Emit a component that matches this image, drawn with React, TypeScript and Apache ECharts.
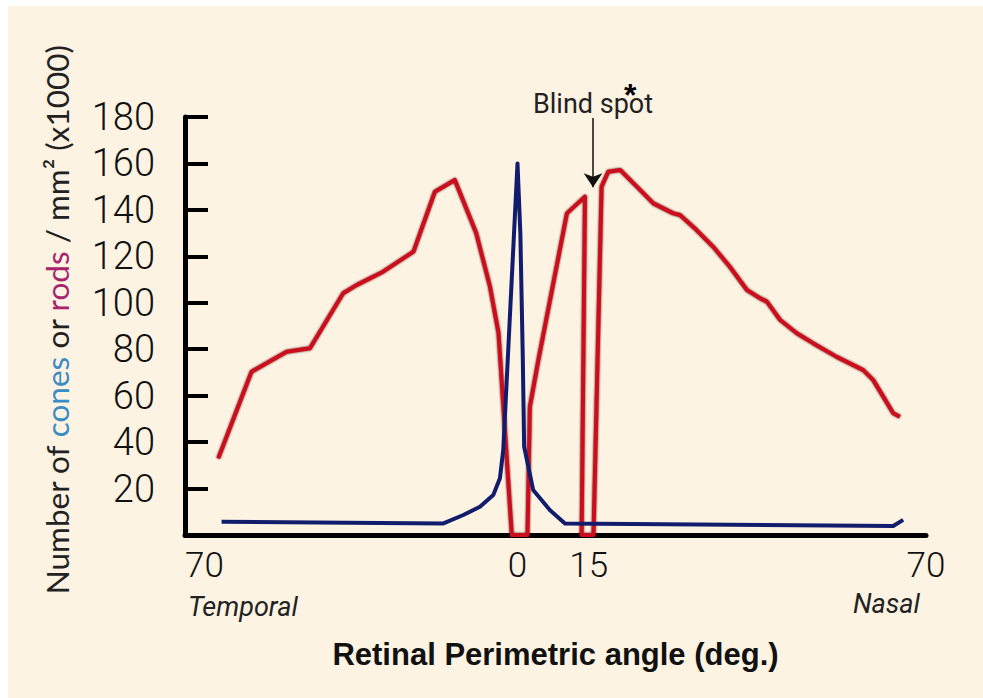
import React, { useEffect, useRef } from "react";
import * as echarts from "echarts";

// Rod density (red) — angle in degrees (negative = temporal), density x1000 / mm²
const rodAngles = [-63.0, -56.0, -48.6, -43.7, -36.7, -33.9, -28.3, -21.9, -17.4, -13.2, -8.7, -5.8, -4.0, -1.2, 2.1, 2.6, 4.4, 10.4, 14.2, 13.5, 16.0, 17.7, 19.1, 21.6, 25.8, 28.6, 32.8, 34.2, 37.7, 41.2, 44.7, 48.3, 51.1, 52.5, 55.3, 58.8, 62.3, 67.2, 72.8, 74.9, 77.0, 79.1, 80.5];
const rodDensity = [33.0, 70.3, 78.9, 80.4, 104.1, 107.6, 113.4, 122.0, 147.8, 152.9, 130.0, 107.0, 87.0, 0, 0, 55.2, 75.4, 138.5, 145.7, 0, 0, 150.0, 156.4, 157.2, 148.6, 142.8, 138.5, 137.8, 131.3, 124.1, 115.5, 105.5, 101.9, 100.5, 92.6, 86.9, 82.5, 76.7, 71.0, 66.7, 59.6, 52.4, 50.9];

// Cone density (blue)
const coneAngles = [-62.3, -15.6, -11.4, -7.9, -5.1, -3.7, -3.0, -2.3, 0, 0.6, 1.1, 1.4, 3.3, 6.8, 10.0, 79.1, 81.2];
const coneDensity = [5.7, 5.0, 8.6, 12.2, 17.2, 24.4, 36.6, 65.3, 160.0, 130.0, 78.0, 38.0, 19.4, 10.8, 5.0, 3.9, 6.5];

// Axis ticks
const xTickValues = [-70, 0, 15, 86];
const xTickLabels = ["70", "0", "15", "70"];
const yMin = 0;
const yMax = 180;
const yInterval = 20;
const xMin = -70;
const xMax = 86;

// Blind spot annotation (angle, from density, to density)
const blindSpotAngle = 15.9;
const blindSpotArrowFrom = 179.6;
const blindSpotArrowTo = 149.8;

const CREAM = "#fdf3e3";
const NUM_FONT = "Roboto, 'Open Sans', sans-serif";

export default function App() {
  const ref = useRef<HTMLDivElement>(null);

  useEffect(() => {
    if (!ref.current) return;
    const chart = echarts.init(ref.current, null, { renderer: "svg" });
    const rods = rodAngles.map((a, i) => [a, rodDensity[i]]);
    const cones = coneAngles.map((a, i) => [a, coneDensity[i]]);

    chart.setOption({
      animation: false,
      backgroundColor: CREAM,
      grid: { left: 177, top: 111, width: 741, height: 418, containLabel: false },
      xAxis: {
        type: "value",
        min: xMin,
        max: xMax,
        name: "Retinal Perimetric angle (deg.)",
        nameLocation: "middle",
        nameGap: 104,
        nameTextStyle: {
          fontFamily: "'Liberation Sans', Arial, sans-serif",
          fontSize: 31,
          fontWeight: "bold",
          color: "#111",
        },
        axisLine: { show: true, onZero: false, lineStyle: { color: "#000", width: 5 } },
        axisTick: { show: false },
        splitLine: { show: false },
        axisLabel: {
          customValues: xTickValues,
          showMinLabel: true,
          showMaxLabel: true,
          alignMinLabel: "left",
          margin: 13,
          fontFamily: NUM_FONT,
          fontWeight: 300,
          fontSize: 35,
          color: "#111",
          formatter: (v: number) => {
            const i = xTickValues.findIndex((t) => Math.abs(t - v) < 1e-6);
            return i >= 0 ? xTickLabels[i] : "";
          },
        },
      },
      yAxis: {
        type: "value",
        min: yMin,
        max: yMax,
        interval: yInterval,
        name: "{d|Number of }{c|cones}{d| or }{r|rods}{d| / mm² (x1000)}",
        nameLocation: "middle",
        nameGap: 112,
        nameTextStyle: {
          padding: [0, 0, 0, 12],
          rich: {
            d: { fontFamily: "Lato, 'Open Sans', sans-serif", fontSize: 31.5, color: "#222" },
            c: { fontFamily: "Lato, 'Open Sans', sans-serif", fontSize: 31.5, color: "#3a8cc4" },
            r: { fontFamily: "Lato, 'Open Sans', sans-serif", fontSize: 31.5, color: "#a8246c" },
          },
        },
        axisLine: { show: true, onZero: false, lineStyle: { color: "#000", width: 5 } },
        axisTick: { show: true, inside: true, length: 23, lineStyle: { color: "#000", width: 4 } },
        splitLine: { show: false },
        axisLabel: {
          margin: 30,
          fontFamily: NUM_FONT,
          fontWeight: 300,
          fontSize: 38,
          color: "#111",
          formatter: (v: number) => (v === 0 ? "" : String(v)),
        },
      },
      series: [
        {
          name: "rods",
          type: "line",
          data: rods,
          showSymbol: false,
          symbol: "none",
          lineStyle: {
            color: "#cc101c",
            width: 4,
            join: "round",
            shadowColor: "rgba(60,0,0,0.9)",
            shadowBlur: 2,
          },
          markLine: {
            silent: true,
            symbol: ["none", "arrow"],
            symbolSize: 14,
            lineStyle: { color: "#111", width: 1.5, type: "solid" },
            label: {
              show: true,
              position: "start",
              distance: 0,
              formatter: "Blind spot",
              fontFamily: "'Liberation Sans Narrow', Roboto, sans-serif",
              fontSize: 27,
              color: "#222",
            },
            data: [
              [
                { coord: [blindSpotAngle, blindSpotArrowFrom] },
                { coord: [blindSpotAngle, blindSpotArrowTo] },
              ],
            ],
          },
          z: 2,
        },
        {
          name: "cones",
          type: "line",
          data: cones,
          showSymbol: false,
          symbol: "none",
          lineStyle: { color: "#121c6c", width: 4, join: "round" },
          z: 3,
        },
      ],
      graphic: [
        {
          type: "text",
          left: 180,
          top: 587,
          style: {
            text: "Temporal",
            font: "italic 27px Roboto, sans-serif",
            fill: "#222",
          },
        },
        {
          type: "text",
          right: 63,
          top: 584,
          style: {
            text: "Nasal",
            font: "italic 27px Roboto, sans-serif",
            fill: "#222",
            textAlign: "right",
          },
        },
        {
          type: "text",
          left: 616,
          top: 73,
          style: {
            text: "*",
            font: "bold 32px 'Liberation Sans', Arial, sans-serif",
            fill: "#000",
          },
        },
      ],
    });
    return () => chart.dispose();
  }, []);

  return (
    <div
      ref={ref}
      style={{ position: "absolute", left: 8, top: 6, width: 975, height: 692 }}
    />
  );
}
